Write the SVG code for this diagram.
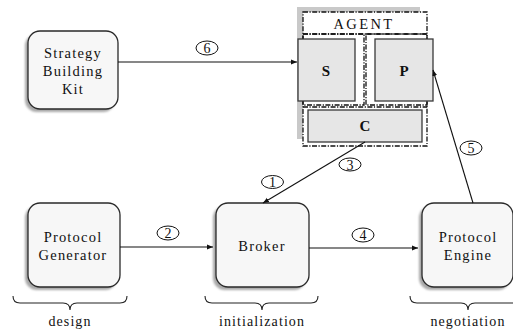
<svg xmlns="http://www.w3.org/2000/svg" width="513" height="331" viewBox="0 0 513 331" font-family="'Liberation Serif', 'Times New Roman', serif">
  <defs>
    <marker id="arrow" viewBox="0 0 10 10" refX="10" refY="5" markerWidth="6" markerHeight="6" orient="auto" markerUnits="userSpaceOnUse">
      <path d="M0,1 L10,5 L0,9 z" fill="#111"/>
    </marker>
    <filter id="soft" x="-10%" y="-10%" width="120%" height="120%">
      <feGaussianBlur stdDeviation="0.8"/>
    </filter>
  </defs>
  <style>
    text { font-family: 'Liberation Serif', 'Times New Roman', serif; fill: #111; }
    .node { fill: #f7f7f7; stroke: #2a2a2a; stroke-width: 1.3; }
    .shadow { fill: #a8a8a8; filter: url(#soft); }
    .lbl { font-size: 14.5px; letter-spacing: 1.2px; text-anchor: middle; }
    .comp { fill: #e6e6e6; stroke: #3a3a3a; stroke-width: 1.3; }
    .compl { font-size: 15px; font-weight: bold; text-anchor: middle; }
    .dash { fill: none; stroke: #111; stroke-width: 1.3; stroke-dasharray: 5 1.5 1.2 1.5; }
    .edge { fill: none; stroke: #111; stroke-width: 1.1; }
    .num { fill: #fff; stroke: #111; stroke-width: 1; }
    .numt { font-size: 14px; text-anchor: middle; }
    .brace { fill: none; stroke: #222; stroke-width: 1.1; }
    .phase { font-size: 14px; letter-spacing: 1.1px; text-anchor: middle; }
  </style>

  <!-- Strategy Building Kit -->
  <g id="strategy-building-kit">
    <rect class="shadow" x="25" y="34" width="90" height="78" rx="12"/>
    <rect class="node" x="28" y="31" width="90" height="78" rx="12"/>
    <text class="lbl" x="73" y="58">Strategy</text>
    <text class="lbl" x="73" y="76">Building</text>
    <text class="lbl" x="73" y="94">Kit</text>
  </g>

  <!-- Agent with its S, P and C parts -->
  <g id="agent">
    <rect x="297" y="7" width="123" height="132" fill="#c9c9c9"/>
    <rect x="303" y="12" width="124" height="134" fill="#fff"/>
    <rect class="dash" x="303" y="12" width="124" height="134"/>
    <line class="dash" x1="303" y1="34" x2="427" y2="34"/>
    <rect class="dash" x="303" y="34" width="61" height="71"/>
    <rect class="dash" x="366" y="34" width="61" height="71"/>
    <line class="dash" x1="303" y1="107" x2="427" y2="107"/>
    <text x="364" y="29" font-size="14.5" letter-spacing="2.4" text-anchor="middle">AGENT</text>
    <g id="agent-s">
      <rect class="comp" x="298" y="39" width="57" height="62"/>
      <text class="compl" x="326" y="76">S</text>
    </g>
    <g id="agent-p">
      <rect class="comp" x="375" y="39" width="58" height="62"/>
      <text class="compl" x="404" y="76">P</text>
    </g>
    <g id="agent-c">
      <rect class="comp" x="308" y="110" width="114" height="32"/>
      <text class="compl" x="365" y="131">C</text>
    </g>
  </g>

  <!-- Protocol Generator -->
  <g id="protocol-generator">
    <rect class="shadow" x="25" y="206" width="92" height="84" rx="12"/>
    <rect class="node" x="28" y="203" width="92" height="84" rx="12"/>
    <text class="lbl" x="73" y="242">Protocol</text>
    <text class="lbl" x="73" y="260">Generator</text>
  </g>

  <!-- Broker -->
  <g id="broker">
    <rect class="shadow" x="213" y="206" width="93" height="84" rx="12"/>
    <rect class="node" x="216" y="203" width="93" height="84" rx="12"/>
    <text class="lbl" x="262" y="251">Broker</text>
  </g>

  <!-- Protocol Engine -->
  <g id="protocol-engine">
    <rect class="shadow" x="419" y="206" width="91" height="84" rx="12"/>
    <rect class="node" x="422" y="203" width="91" height="84" rx="12"/>
    <text class="lbl" x="468" y="242">Protocol</text>
    <text class="lbl" x="468" y="260">Engine</text>
  </g>

  <!-- Connectors with step numbers -->
  <g id="connectors">
    <line class="edge" x1="118" y1="62" x2="297" y2="62" marker-end="url(#arrow)"/>
    <line class="edge" x1="120" y1="247" x2="213" y2="247" marker-end="url(#arrow)"/>
    <line class="edge" x1="309" y1="248" x2="418" y2="248" marker-end="url(#arrow)"/>
    <line class="edge" x1="365" y1="142" x2="263" y2="203" marker-end="url(#arrow)"/>
    <line class="edge" x1="473" y1="203" x2="433" y2="70" marker-end="url(#arrow)"/>

    <ellipse class="num" cx="207" cy="48" rx="11" ry="7"/>
    <text class="numt" x="207" y="53">6</text>
    <ellipse class="num" cx="168" cy="233" rx="11" ry="7"/>
    <text class="numt" x="168" y="238">2</text>
    <ellipse class="num" cx="363" cy="235" rx="11" ry="7"/>
    <text class="numt" x="363" y="240">4</text>
    <ellipse class="num" cx="272.5" cy="182" rx="11" ry="6.5"/>
    <text class="numt" x="272.5" y="187">1</text>
    <ellipse class="num" cx="350" cy="164.5" rx="11" ry="6.5"/>
    <text class="numt" x="350" y="169.5">3</text>
    <ellipse class="num" cx="471" cy="148" rx="11" ry="7"/>
    <text class="numt" x="471" y="153">5</text>
  </g>

  <!-- Phase braces -->
  <g id="phase-design">
    <path class="brace" d="M13,296 q0,7 7,7 H63 q7,0 7,7 q0,-7 7,-7 H120 q7,0 7,-7"/>
    <text class="phase" x="70" y="326">design</text>
  </g>
  <g id="phase-initialization">
    <path class="brace" d="M205,296 q0,7 7,7 H255 q7,0 7,7 q0,-7 7,-7 H311 q7,0 7,-7"/>
    <text class="phase" x="262" y="326">initialization</text>
  </g>
  <g id="phase-negotiation">
    <path class="brace" d="M410,296 q0,7 7,7 H461 q7,0 7,7 q0,-7 7,-7 H519 q7,0 7,-7"/>
    <text class="phase" x="468" y="326">negotiation</text>
  </g>
</svg>
